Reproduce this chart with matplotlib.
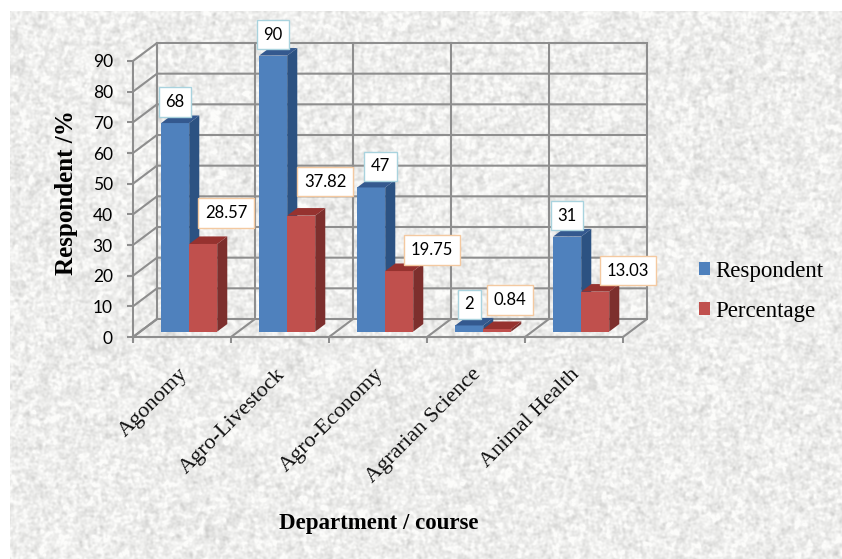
"""
Respondents per department, drawn as a 3D-look clustered bar chart on a paper texture.
"""

import matplotlib
matplotlib.use('Agg')
import matplotlib.pyplot as plt
from matplotlib.patches import Patch, Polygon
from matplotlib.transforms import ScaledTranslation
import numpy as np

categories = ['Agonomy', 'Agro-Livestock', 'Agro-Economy', 'Agrarian Science', 'Animal Health']
respondent = [68, 90, 47, 2, 31]
percentage = [28.57, 37.82, 19.75, 0.84, 13.03]
y_ticks = [0, 10, 20, 30, 40, 50, 60, 70, 80, 90]

W, H = 842, 559
GRID = '#8e8e8e'
SERIF = 'Liberation Serif'
SANS = 'Lato'

# px offsets of the value boxes, from bar centre and top
respondent_shift = [(0, 21), (0, 21), (9.5, 21), (0, 21), (0, 21)]
percentage_shift = [(23, 31), (24, 34), (33, 21), (13, 29), (33, 21)]


def paper_texture(h, w, seed=7):
    """Soft grey speckle built from blurred noise."""
    rng = np.random.default_rng(seed)
    fy = np.fft.fftfreq(h)[:, None]
    fx = np.fft.fftfreq(w)[None, :]
    out = np.zeros((h, w))
    for sigma_y, sigma_x, amp in [(1.0, 1.0, 0.7), (2.0, 1.2, 0.7), (1.2, 2.0, 0.7), (4, 4, 0.2)]:
        kernel = np.exp(-2 * np.pi**2 * ((fy * sigma_y)**2 + (fx * sigma_x)**2))
        noise = np.fft.ifft2(np.fft.fft2(rng.standard_normal((h, w))) * kernel).real
        out += amp * noise / noise.std()
    out /= out.std()
    grey = np.clip(238 + 8 * out, 195, 252)
    rgb = np.dstack([grey, grey, grey - 1.5]) / 255
    return rgb


fig = plt.figure(figsize=(W / 100, H / 100), dpi=100, facecolor='white')
fig.figimage(paper_texture(H - 11, W - 10), xo=10, yo=0, zorder=-1, origin='upper')

# Axes cover the front plane of the chart box
ax = fig.add_axes([133 / W, (H - 337) / H, 490 / W, 276 / H])
ax.patch.set_visible(False)
ax.set_xlim(0, 5)
ax.set_ylim(0, 90)
for side in ['top', 'right']:
    ax.spines[side].set_visible(False)
for side in ['left', 'bottom']:
    ax.spines[side].set_color(GRID)
    ax.spines[side].set_linewidth(1.5)

ax.set_yticks(y_ticks)
ax.set_yticklabels([str(t) for t in y_ticks], fontsize=12.5, family=SANS, color='black')
ax.set_xticks(range(6))
ax.set_xticklabels([''] * 6)
ax.tick_params(axis='both', which='major', color=GRID, width=1.5, length=4.5)
ax.tick_params(axis='y', pad=10)
ax.set_xticks(np.arange(5) + 0.5, minor=True)
ax.set_xticklabels(categories, minor=True, rotation=45, ha='right', va='center',
                   rotation_mode='anchor', fontsize=16, family=SERIF, color='#111111')
ax.tick_params(axis='x', which='minor', length=0, pad=25)
for label in ax.get_xticklabels(minor=True):
    label.set_transform(label.get_transform() + ScaledTranslation(2.5 / 100, 0, fig.dpi_scale_trans))

# Depth of the box in data units
depth_x = 24 / 98
depth_y = 18 / (276 / 90)

# Back wall, side wall and floor
for t in y_ticks:
    ax.plot([0, depth_x, 5 + depth_x], [t, t + depth_y, t + depth_y],
            color=GRID, lw=1.5, clip_on=False, zorder=1)
for c in range(6):
    ax.plot([c, c + depth_x, c + depth_x], [0, depth_y, 90 + depth_y],
            color=GRID, lw=1.5, clip_on=False, zorder=1)

# Bars sit in the middle part of the floor depth
bar_w = 28 / 98
gap = 21 / 98
near = 0.3
far = 0.72
off_x = near * depth_x
base = near * depth_y
run_x = (far - near) * depth_x
run_y = (far - near) * depth_y

series = [
    (respondent, 0, '#4f81bd', '#2c5282', '#34598f', respondent_shift, '#a9d3de'),
    (percentage, 1, '#c0504d', '#7d2f2d', '#96322f', percentage_shift, '#f4c9a0'),
]

for i in range(len(categories)):
    for values, pos, face, side, top, shift, edge in series:
        v = values[i]
        left = i + gap + off_x + pos * bar_w
        right = left + bar_w
        ax.bar(left, v, width=bar_w, bottom=base, align='edge', color=face,
               clip_on=False, zorder=3 + pos)
        ax.add_patch(Polygon([(right, base), (right + run_x, base + run_y),
                              (right + run_x, base + v + run_y), (right, base + v)],
                             closed=True, facecolor=side, edgecolor='none',
                             clip_on=False, zorder=3 + pos))
        ax.add_patch(Polygon([(left, base + v), (right, base + v),
                              (right + run_x, base + v + run_y), (left + run_x, base + v + run_y)],
                             closed=True, facecolor=top, edgecolor='none',
                             clip_on=False, zorder=3 + pos))
        ax.annotate(f'{v:g}', xy=(left + bar_w / 2, base + v),
                    xytext=(shift[i][0] * 0.72, shift[i][1] * 0.72),
                    textcoords='offset points', ha='center', va='center',
                    fontsize=12, family=SANS, color='black', annotation_clip=False,
                    zorder=6,
                    bbox=dict(boxstyle='square,pad=0.4', facecolor='white',
                              edgecolor=edge, linewidth=1))

handles = [Patch(facecolor='#4f81bd', label='Respondent'),
           Patch(facecolor='#c0504d', label='Percentage')]
fig.legend(handles=handles, loc='upper left', bbox_to_anchor=(699 / W, (H - 261) / H),
           frameon=False, prop={'family': SERIF, 'size': 16.5}, borderpad=0, borderaxespad=0,
           handlelength=0.5, handleheight=0.5, handletextpad=0.2, labelspacing=0.82)

fig.text(67 / W, (H - 192.5) / H, 'Respondent /%', rotation=90, ha='center', va='center',
         fontsize=18, fontweight='bold', family=SERIF, color='black')
fig.text(378.5 / W, (H - 524) / H, 'Department / course', ha='center', va='center',
         fontsize=16.5, fontweight='bold', family=SERIF, color='black')

fig.savefig('out.png', dpi=100, facecolor='white')
plt.close(fig)
